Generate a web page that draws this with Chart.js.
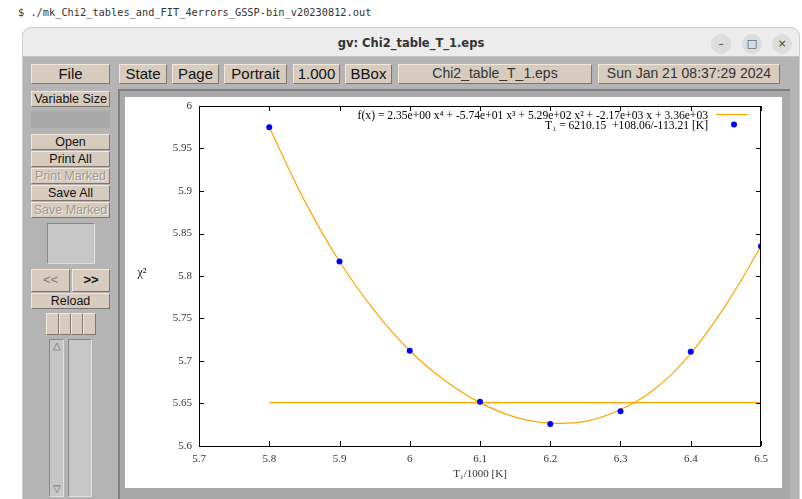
<!DOCTYPE html>
<html>
<head>
<meta charset="utf-8">
<script src="https://cdn.jsdelivr.net/npm/chart.js@4"></script>
<style>
  body { margin: 0; width: 802px; height: 499px; background: #fff; position: relative; overflow: hidden; font-family: "Liberation Sans", Arial, sans-serif; }
  .abs { position: absolute; box-sizing: border-box; }
  #cmd { left: 18px; top: 6px; font-family: "DejaVu Sans Mono", monospace; font-size: 10.3px; color: #333; white-space: pre; }
  #win { left: 22px; top: 27px; width: 778px; height: 480px; background: #b4b4b4; border-radius: 9px 9px 0 0; border: 1px solid #d0d0d0; overflow: hidden; }
  #titlebar { left: 0; top: 0; width: 100%; height: 29px; background: #ececec; border-bottom: 1px solid #c8c8c8; }
  #title { width: 100%; text-align: center; top: 8px; font-family: "DejaVu Sans", sans-serif; font-weight: bold; font-size: 11.5px; color: #333; }
  .wbtn { width: 20px; height: 20px; border-radius: 50%; background: #dcdcdc; top: 6px; text-align: center; font-family: "DejaVu Sans", sans-serif; font-size: 11px; line-height: 20px; color: #444; }
  .btn { background: #d6cbbd; border: 1px solid; border-color: #f0e8dc #7d766c #7d766c #f0e8dc; text-align: center; color: #111; white-space: nowrap; overflow: hidden; }
  .big { font-size: 15px; line-height: 17px; }
  .small { font-size: 12.5px; line-height: 14px; }
  .off { color: #a09a92; text-shadow: 1px 1px 0 #eee; }
  .well { background: #c6c6c6; border: 1px solid; border-color: #888 #e0e0e0 #e0e0e0 #888; }
  #page { left: 118px; top: 89px; width: 672px; height: 412px; background: #a8a8a8; border-left: 2px solid #7e7e7e; border-top: 2px solid #7e7e7e; }
  #paper { left: 125px; top: 97px; width: 657px; height: 391px; background: #fff; }
  #chartBox { left: 125px; top: 97px; width: 657px; height: 391px; }
</style>
</head>
<body>
<div class="abs" id="cmd">$ ./mk_Chi2_tables_and_FIT_4errors_GSSP-bin_v20230812.out</div>
<div class="abs" id="win">
  <div class="abs" id="titlebar">
    <div class="abs" id="title">gv: Chi2_table_T_1.eps</div>
    <div class="abs wbtn" style="left:688px">–</div>
    <div class="abs wbtn" style="left:719px">□</div>
    <div class="abs wbtn" style="left:749px">×</div>
  </div>
</div>

<div class="abs btn big" style="left:31px;top:64px;width:79px;height:20px">File</div>
<div class="abs btn big" style="left:119px;top:64px;width:48px;height:20px">State</div>
<div class="abs btn big" style="left:172px;top:64px;width:47px;height:20px">Page</div>
<div class="abs btn big" style="left:224px;top:64px;width:63px;height:20px">Portrait</div>
<div class="abs btn big" style="left:293px;top:64px;width:47px;height:20px">1.000</div>
<div class="abs btn big" style="left:345px;top:64px;width:47px;height:20px">BBox</div>
<div class="abs btn" style="left:398px;top:64px;width:194px;height:20px;font-size:14px;line-height:17px;color:#333">Chi2_table_T_1.eps</div>
<div class="abs btn" style="left:598px;top:64px;width:182px;height:20px;font-size:14px;line-height:17px;color:#333">Sun Jan 21 08:37:29 2024</div>

<div class="abs btn small" style="left:31px;top:91px;width:79px;height:16px">Variable Size</div>
<div class="abs" style="left:31px;top:111px;width:79px;height:17px;background:#a9a9a9"></div>
<div class="abs btn small" style="left:31px;top:134px;width:79px;height:16px">Open</div>
<div class="abs btn small" style="left:31px;top:151px;width:79px;height:16px">Print All</div>
<div class="abs btn small off" style="left:31px;top:168px;width:79px;height:16px">Print Marked</div>
<div class="abs btn small" style="left:31px;top:185px;width:79px;height:16px">Save All</div>
<div class="abs btn small off" style="left:31px;top:202px;width:79px;height:16px">Save Marked</div>
<div class="abs well" style="left:47px;top:223px;width:48px;height:41px"></div>
<div class="abs btn" style="left:31px;top:269px;width:39px;height:23px;font-size:13px;line-height:20px;color:#777">&lt;&lt;</div>
<div class="abs btn" style="left:72px;top:269px;width:38px;height:23px;font-size:13px;line-height:20px;font-weight:bold">&gt;&gt;</div>
<div class="abs btn small" style="left:31px;top:293px;width:79px;height:16px">Reload</div>
<div class="abs btn" style="left:46px;top:313px;width:13px;height:22px"></div>
<div class="abs btn" style="left:59px;top:313px;width:12px;height:22px"></div>
<div class="abs btn" style="left:71px;top:313px;width:12px;height:22px"></div>
<div class="abs btn" style="left:83px;top:313px;width:13px;height:22px"></div>
<div class="abs well" style="left:49px;top:339px;width:15px;height:158px"></div>
<div class="abs" style="left:51px;top:341px;width:11px;height:10px;font-size:10px;line-height:10px;color:#666;text-align:center">△</div>
<div class="abs" style="left:51px;top:484px;width:11px;height:10px;font-size:10px;line-height:10px;color:#666;text-align:center">▽</div>
<div class="abs well" style="left:68px;top:339px;width:24px;height:158px"></div>

<div class="abs" id="page"></div>
<div class="abs" id="paper"></div>
<div class="abs" id="chartBox"><canvas id="chi2Chart" width="657" height="391"></canvas></div>

<script>
// chi^2 of the model grid against T1 (in units of 1000 K)
const tGrid = [5.8, 5.9, 6.0, 6.1, 6.2, 6.3, 6.4, 6.5];
const chi2Values = [5.975, 5.817, 5.712, 5.652, 5.626, 5.641, 5.711, 5.835];

// fitted quartic, sampled every 0.05
const fitT = [5.8, 5.85, 5.9, 5.95, 6.0, 6.05, 6.1, 6.15, 6.2, 6.25, 6.3, 6.35, 6.4, 6.45, 6.5];
const fitChi2 = [5.975, 5.889, 5.817, 5.759, 5.712, 5.677, 5.651, 5.634, 5.627, 5.629, 5.643, 5.668, 5.709, 5.766, 5.835];

// chi2_min + delta level used for the error bars
const levelT = [5.8, 6.5];
const levelChi2 = [5.651, 5.651];

const xTicks = [5.7, 5.8, 5.9, 6.0, 6.1, 6.2, 6.3, 6.4, 6.5];
const yTicks = [5.6, 5.65, 5.7, 5.75, 5.8, 5.85, 5.9, 5.95, 6.0];

const fitLabel = "f(x) = 2.35e+00 x\u2074 + -5.74e+01 x\u00b3 + 5.29e+02 x\u00b2 + -2.17e+03 x + 3.36e+03";
const pointLabel = "T\u2081 = 6210.15  +108.06/-113.21 [K]";

const serif = "'Liberation Serif', 'Times New Roman', serif";
const orange = "#ffa500";

const toXY = (xs, ys) => xs.map((x, i) => ({ x: x, y: ys[i] }));

// gnuplot-like frame: box, inward ticks on all four sides, key and y label
const gnuFrame = {
    id: "gnuFrame",
    afterDatasetsDraw(chart) {
        const { ctx, chartArea: a, scales } = chart;
        ctx.save();
        ctx.strokeStyle = "#000";
        ctx.lineWidth = 1;
        ctx.strokeRect(a.left + 0.5, a.top + 0.5, a.right - a.left - 1, a.bottom - a.top);

        ctx.beginPath();
        xTicks.forEach(v => {
            const px = Math.round(scales.x.getPixelForValue(v)) + 0.5;
            ctx.moveTo(px, a.bottom); ctx.lineTo(px, a.bottom - 5);
            ctx.moveTo(px, a.top); ctx.lineTo(px, a.top + 5);
        });
        yTicks.forEach(v => {
            const py = Math.round(scales.y.getPixelForValue(v)) + 0.5;
            ctx.moveTo(a.left, py); ctx.lineTo(a.left + 5, py);
            ctx.moveTo(a.right, py); ctx.lineTo(a.right - 5, py);
        });
        ctx.stroke();

        // key, top right
        ctx.font = "11.6px " + serif;
        ctx.fillStyle = "#000";
        ctx.textAlign = "right";
        ctx.textBaseline = "middle";
        const fitSet = chart.data.datasets[0];
        const ptSet = chart.data.datasets[2];
        ctx.fillText(fitSet.label, a.right - 53, a.top + 10);
        ctx.fillText(ptSet.label, a.right - 53, a.top + 20);
        ctx.strokeStyle = fitSet.borderColor;
        ctx.lineWidth = 1.2;
        ctx.beginPath();
        ctx.moveTo(a.right - 45, a.top + 8.5);
        ctx.lineTo(a.right - 13, a.top + 8.5);
        ctx.stroke();
        ctx.fillStyle = ptSet.backgroundColor;
        ctx.beginPath();
        ctx.arc(a.right - 27, a.top + 18.5, 3, 0, Math.PI * 2);
        ctx.fill();

        // y label, horizontal as gnuplot writes it
        ctx.fillStyle = "#111";
        ctx.textAlign = "center";
        ctx.font = "12px " + serif;
        ctx.fillText("\u03c7\u00b2", a.left - 57, (a.top + a.bottom) / 2 - 3);
        ctx.restore();
    }
};

const ctx = document.getElementById("chi2Chart").getContext("2d");
new Chart(ctx, {
    type: "scatter",
    data: {
        datasets: [
            {
                label: fitLabel,
                data: toXY(fitT, fitChi2),
                showLine: true,
                borderColor: orange,
                borderWidth: 1.2,
                pointRadius: 0,
                tension: 0.4,
                fill: false,
                order: 3
            },
            {
                label: "level",
                data: toXY(levelT, levelChi2),
                showLine: true,
                borderColor: orange,
                borderWidth: 1.2,
                pointRadius: 0,
                fill: false,
                order: 2
            },
            {
                label: pointLabel,
                data: toXY(tGrid, chi2Values),
                backgroundColor: "#0000ff",
                borderColor: "#0000ff",
                borderWidth: 0,
                pointRadius: 3,
                order: 1
            }
        ]
    },
    options: {
        responsive: false,
        animation: false,
        layout: { padding: { top: 9, right: 21, left: 0, bottom: 0 } },
        plugins: {
            legend: { display: false },
            tooltip: { enabled: false }
        },
        scales: {
            x: {
                type: "linear",
                min: 5.7,
                max: 6.5,
                afterFit(scale) {
                    scale.height = 42;
                    scale.paddingLeft = 0;
                    scale.paddingRight = 0;
                },
                afterBuildTicks(scale) { scale.ticks = xTicks.map(v => ({ value: v })); },
                grid: { display: false, drawTicks: false },
                border: { display: false },
                ticks: {
                    padding: 7,
                    color: "#333",
                    font: { family: serif, size: 11 },
                    maxRotation: 0,
                    callback: v => String(+v.toFixed(2))
                },
                title: {
                    display: true,
                    text: "T\u2081/1000 [K]",
                    color: "#333",
                    font: { family: serif, size: 11 },
                    padding: { top: 0, bottom: 7 }
                }
            },
            y: {
                type: "linear",
                min: 5.6,
                max: 6.0,
                afterFit(scale) {
                    scale.width = 74;
                    scale.paddingTop = 0;
                    scale.paddingBottom = 0;
                },
                afterBuildTicks(scale) { scale.ticks = yTicks.map(v => ({ value: v })); },
                grid: { display: false, drawTicks: false },
                border: { display: false },
                ticks: {
                    padding: 7,
                    color: "#333",
                    font: { family: serif, size: 11 },
                    callback: v => String(+v.toFixed(2))
                }
            }
        }
    },
    plugins: [gnuFrame]
});
</script>
</body>
</html>
